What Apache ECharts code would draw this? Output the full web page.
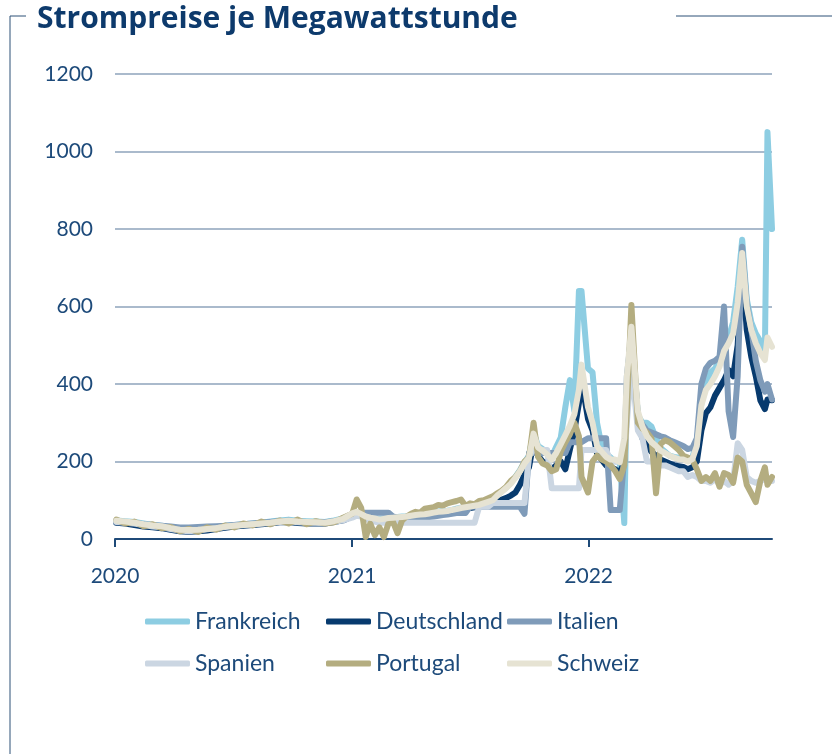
<!DOCTYPE html>
<html>
<head>
<meta charset="utf-8">
<script src="https://cdn.jsdelivr.net/npm/echarts@6/dist/echarts.min.js"></script>
<style>
  html, body { margin: 0; padding: 0; background: #fff; }
  #main { width: 832px; height: 754px; }
</style>
</head>
<body>
<div id="main"></div>
<script>
// dates: 2020 biweekly, from 2021 weekly (a few shifted to catch the spikes)
var dates = [
  '2020-01-03','2020-01-17','2020-01-31','2020-02-14','2020-02-28','2020-03-13','2020-03-27','2020-04-10','2020-04-24',
  '2020-05-08','2020-05-22','2020-06-05','2020-06-19','2020-07-03','2020-07-17','2020-07-31','2020-08-14','2020-08-28',
  '2020-09-11','2020-09-25','2020-10-09','2020-10-23','2020-11-06','2020-11-20','2020-12-04','2020-12-18',
  '2021-01-01','2021-01-08','2021-01-15','2021-01-22','2021-01-29','2021-02-05','2021-02-12','2021-02-19','2021-02-26',
  '2021-03-05','2021-03-12','2021-03-19','2021-03-26','2021-04-02','2021-04-09','2021-04-16','2021-04-23','2021-04-30',
  '2021-05-07','2021-05-14','2021-05-21','2021-05-28','2021-06-04','2021-06-11','2021-06-18',
  '2021-06-25','2021-07-02','2021-07-09','2021-07-16','2021-07-23','2021-07-30','2021-08-06','2021-08-13','2021-08-20',
  '2021-08-27','2021-09-03','2021-09-10','2021-09-17','2021-09-24','2021-10-01','2021-10-08','2021-10-15','2021-10-22',
  '2021-10-29','2021-11-05','2021-11-12','2021-11-19','2021-11-26','2021-12-03','2021-12-10','2021-12-17','2021-12-21',
  '2021-12-31',
  '2022-01-07','2022-01-14','2022-01-21','2022-01-28','2022-02-04','2022-02-11','2022-02-18','2022-02-25','2022-03-01',
  '2022-03-08','2022-03-18','2022-03-25','2022-04-01','2022-04-08','2022-04-15','2022-04-22','2022-04-29','2022-05-06',
  '2022-05-13','2022-05-20','2022-05-27','2022-06-03','2022-06-10','2022-06-17','2022-06-24','2022-07-01','2022-07-08',
  '2022-07-15','2022-07-22','2022-07-29','2022-08-05','2022-08-12','2022-08-19','2022-08-26','2022-09-02','2022-09-09',
  '2022-09-16','2022-09-23','2022-09-30','2022-10-04','2022-10-11'
];

var frankreich = [
  48,46,44,40,36,34,30,26,24,26,28,30,34,36,38,40,42,45,48,50,47,46,45,44,48,53,
  65,68,64,58,55,54,52,53,54,56,57,58,59,61,63,64,65,67,69,71,72,73,75,78,81,
  83,85,87,89,93,97,101,113,123,133,145,160,178,198,215,275,240,232,222,212,238,262,340,410,330,640,640,440,
  430,300,240,220,210,200,200,41,400,540,320,300,300,290,260,235,225,215,212,210,208,205,210,250,350,395,430,
  440,460,500,520,560,650,772,620,560,530,510,480,1050,800
];
var deutschland = [
  42,40,36,32,30,28,24,20,19,20,22,26,29,32,34,36,38,40,43,44,41,40,40,40,44,48,
  58,64,60,54,50,48,46,48,50,50,52,53,54,56,58,60,60,62,63,65,66,68,70,74,76,
  78,80,82,84,87,90,94,98,102,106,112,120,140,165,185,250,215,200,195,180,190,200,180,230,280,350,410,310,
  280,220,205,190,185,180,170,200,380,500,300,260,240,225,215,205,200,195,190,188,186,180,185,200,280,325,340,
  370,390,410,436,420,500,702,540,470,420,358,335,360,358
];
var italien = [
  46,44,42,38,36,34,32,30,30,31,32,33,34,36,38,40,42,44,46,47,45,44,44,43,46,50,
  58,62,68,68,68,68,68,68,68,58,55,55,55,55,56,56,57,57,58,60,62,63,65,67,67,
  67,83,83,83,83,83,83,83,83,83,83,83,83,65,222,222,222,222,222,222,222,222,222,250,250,250,250,260,
  260,260,260,260,75,75,75,210,420,530,320,295,280,275,270,265,262,255,250,245,240,232,235,260,400,440,455,
  460,470,600,330,263,420,754,610,540,460,410,380,400,360
];
var spanien = [
  44,42,40,36,32,30,26,22,20,22,25,28,31,34,36,38,40,42,44,45,43,42,42,41,44,48,
  55,60,58,52,48,45,42,42,42,42,42,42,42,42,42,42,42,42,42,42,42,42,42,42,42,
  42,42,42,83,83,83,93,93,93,93,93,93,93,93,215,230,230,230,230,131,131,131,131,131,131,131,230,230,
  230,230,230,230,200,200,200,200,300,450,280,260,200,200,195,190,190,185,180,175,175,160,165,160,150,150,145,
  155,140,150,140,150,247,230,160,150,145,150,155,150,150
];
var portugal = [
  50,40,45,33,38,28,31,20,26,18,30,24,35,30,40,35,45,38,48,40,50,38,46,40,43,55,
  65,102,80,5,40,10,30,5,40,45,15,48,58,65,70,68,78,80,82,88,86,92,95,98,102,
  85,92,90,98,100,105,110,118,125,135,150,160,175,200,210,300,212,195,190,175,180,225,250,270,300,265,160,120,
  200,215,205,200,190,175,155,190,330,604,300,285,275,260,118,245,255,250,240,230,215,210,205,180,150,160,150,
  170,135,170,165,145,210,200,140,118,95,150,185,140,160
];
var schweiz = [
  47,45,42,38,35,33,28,24,23,24,26,28,32,34,36,38,40,42,45,47,45,44,43,42,46,52,
  66,70,64,58,55,53,50,52,54,55,56,57,58,60,62,63,64,66,68,70,71,72,75,77,80,
  82,84,86,88,92,96,100,112,122,132,143,158,175,195,210,272,236,228,218,205,222,245,268,292,322,385,450,340,
  300,240,225,212,205,205,198,260,420,548,330,290,265,250,240,228,222,215,210,206,205,200,206,240,345,385,400,
  420,445,485,505,530,610,738,600,540,505,480,462,520,496
];

var names = ['Frankreich', 'Deutschland', 'Italien', 'Spanien', 'Portugal', 'Schweiz'];
var colors = ['#8dcde2', '#073a6e', '#7f9bb9', '#cbd6e2', '#b4ad80', '#e6e3d3'];
var values = [frankreich, deutschland, italien, spanien, portugal, schweiz];
var yearTicks = ['2020-01-01', '2021-01-01', '2022-01-01'];
var xStart = '2020-01-01', xEnd = '2022-10-11';

var textColor = '#1d4a7a';

function ts(s) {
    var p = s.split('-');
    return Date.UTC(+p[0], +p[1] - 1, +p[2]);
}

var myChart = echarts.init(document.getElementById('main'));

var seriesData = names.map(function (n, k) {
    return {
        name: n,
        type: 'line',
        symbol: 'none',
        showSymbol: false,
        lineStyle: { width: 6, color: colors[k], cap: 'round', join: 'round' },
        itemStyle: { color: colors[k] },
        data: dates.map(function (d, i) { return [ts(d), values[k][i]]; })
    };
});

function legendCol(items, left) {
    return {
        orient: 'vertical',
        left: left,
        top: 610,
        padding: 0,
        data: items,
        icon: 'roundRect',
        itemWidth: 45,
        itemHeight: 6,
        itemGap: 19,
        selectedMode: false,
        textStyle: { color: textColor, fontSize: 23, fontFamily: 'Lato' }
    };
}

var yearStamps = yearTicks.map(ts);

var option = {
    animation: false,
    backgroundColor: '#fff',
    color: colors,
    title: {
        text: 'Strompreise je Megawattstunde',
        left: 32,
        top: -1,
        textStyle: { color: '#0d3a6c', fontSize: 30, fontWeight: 'bold', fontFamily: 'Open Sans' }
    },
    grid: { left: 115, right: 60, top: 74, bottom: 215 },
    legend: [
        legendCol(['Frankreich', 'Spanien'], 145),
        legendCol(['Deutschland', 'Portugal'], 326),
        legendCol(['Italien', 'Schweiz'], 507)
    ],
    xAxis: {
        type: 'value',
        min: ts(xStart),
        max: ts(xEnd),
        axisLine: { lineStyle: { color: '#1f4a78', width: 2 } },
        axisTick: { show: true, length: 8, lineStyle: { color: '#1f4a78', width: 2 }, customValues: yearStamps },
        axisLabel: {
            customValues: yearStamps,
            color: textColor, fontSize: 21, fontFamily: 'Lato', margin: 27,
            formatter: function (v) { return String(new Date(v).getUTCFullYear()); }
        },
        splitLine: { show: false }
    },
    yAxis: {
        type: 'value',
        min: 0, max: 1200, interval: 200,
        axisLine: { show: false },
        axisTick: { show: false },
        axisLabel: {
            color: textColor, fontSize: 21, fontFamily: 'Lato', margin: 22,
            formatter: function (v) { return String(v); }
        },
        splitLine: { lineStyle: { color: '#8ea3bb', width: 1.5 } }
    },
    graphic: [
        { type: 'line', shape: { x1: 10, y1: 16, x2: 10, y2: 754 }, style: { stroke: '#2c5077', lineWidth: 1 } },
        { type: 'line', shape: { x1: 10, y1: 16, x2: 26, y2: 16 }, style: { stroke: '#2c5077', lineWidth: 1 } },
        { type: 'line', shape: { x1: 676, y1: 16, x2: 832, y2: 16 }, style: { stroke: '#2c5077', lineWidth: 1 } }
    ],
    series: seriesData
};

myChart.setOption(option);
</script>
</body>
</html>
